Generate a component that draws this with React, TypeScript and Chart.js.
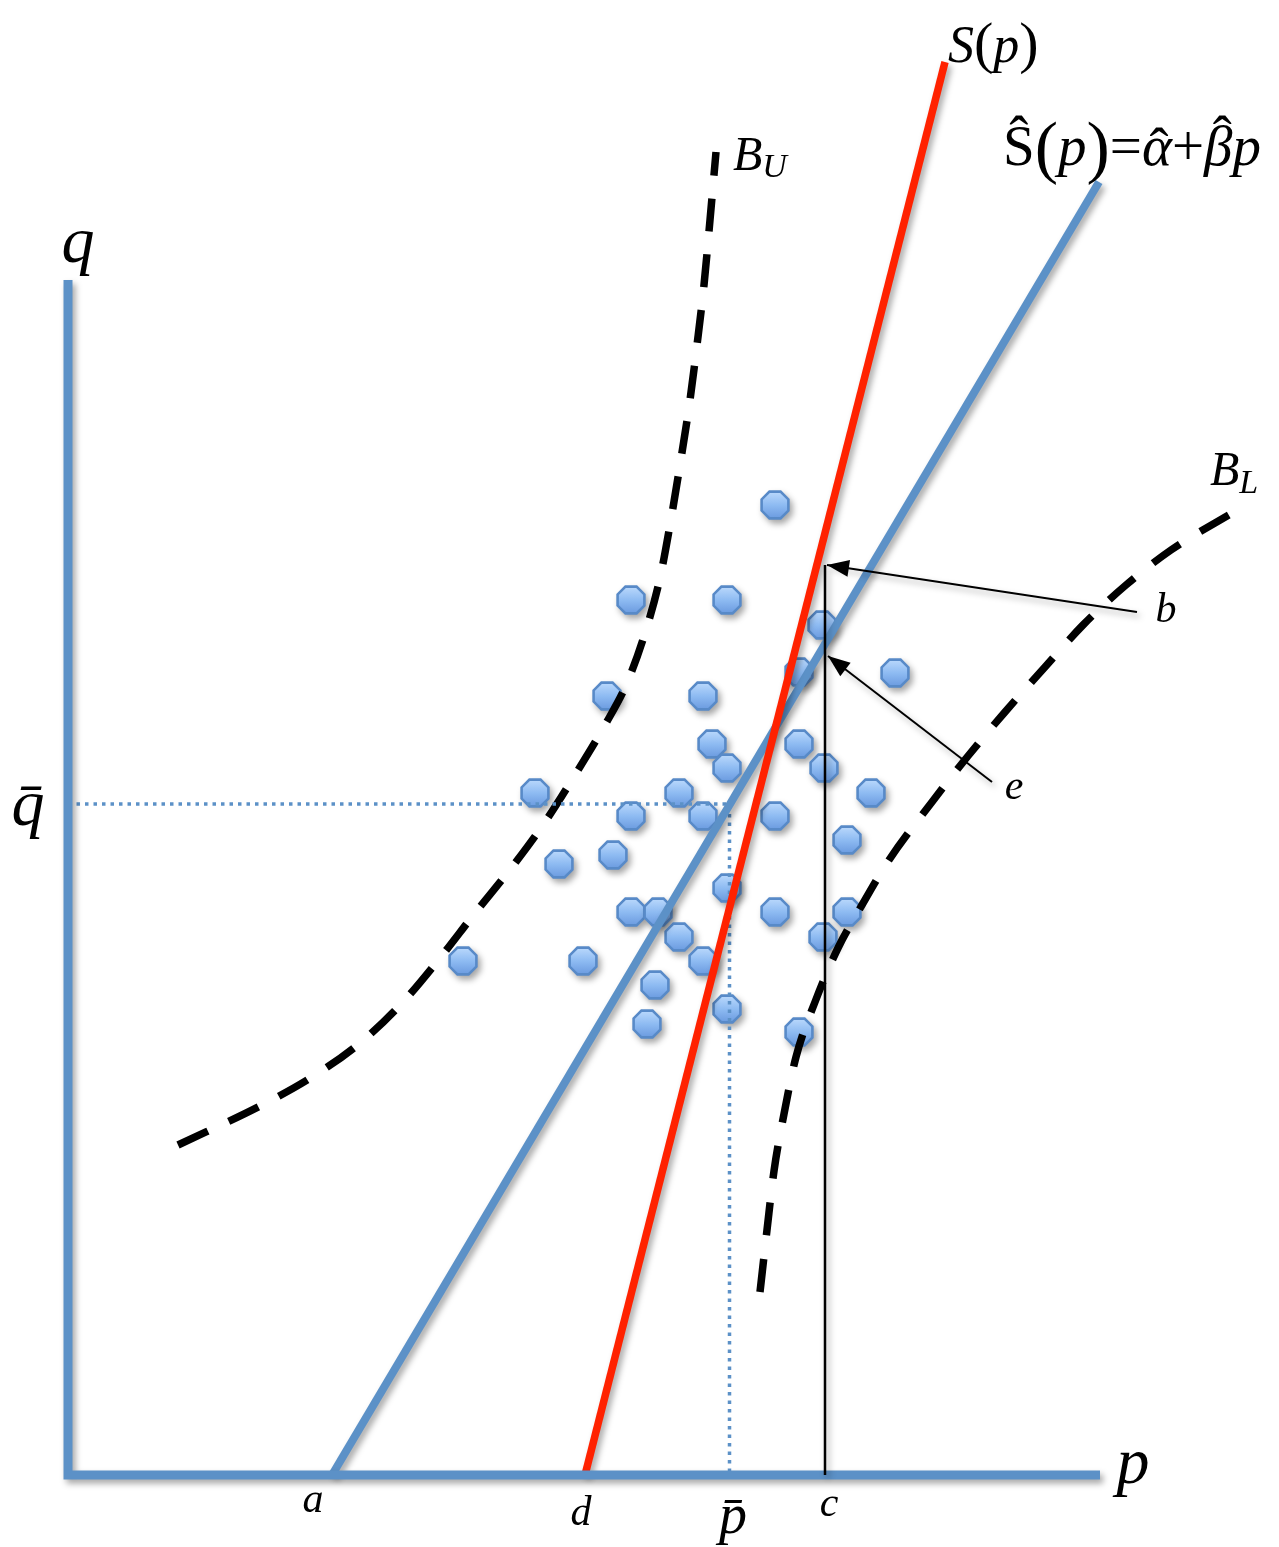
import React, { useEffect, useRef } from 'react';
import { Chart, registerables } from 'chart.js';

Chart.register(...registerables);

const W = 1279;
const H = 1547;

// Scale extents (data units: p horizontal, q vertical)
const P_MIN = -6.8;
const P_MAX = 121.1;
const Q_MIN = -7.2;
const Q_MAX = 147.5;

// Observations (p, q)
const obsP = [70.7, 56.3, 65.9, 75.4, 82.7, 53.9, 63.5, 73.1, 64.4, 73.1, 65.9, 75.6, 46.7, 61.1, 80.3, 56.3, 63.5, 70.7, 77.9, 49.1, 54.5, 65.9, 56.3, 59.0, 70.7, 77.9, 61.1, 75.5, 39.5, 51.5, 63.5, 58.7, 65.9, 57.9, 73.1];
const obsQ = [97.0, 87.5, 87.5, 85.0, 80.2, 77.9, 77.9, 80.3, 73.1, 73.1, 70.7, 70.7, 68.2, 68.2, 68.2, 65.9, 65.9, 65.9, 63.5, 61.1, 62.0, 58.7, 56.3, 56.3, 56.3, 56.3, 53.8, 53.8, 51.4, 51.4, 51.4, 49.0, 46.6, 45.1, 44.3];

// True supply S(p)
const trueP = [51.7, 87.7];
const trueQ = [0, 141.3];

// Fitted supply Ŝ(p) = α̂ + β̂p
const fitP = [26.4, 103.1];
const fitQ = [0, 129.3];

// Upper band B_U
const upperP = [11.0, 19.4, 24.4, 29.2, 33.4, 37.2, 40.7, 44.4, 47.7, 50.7, 53.7, 55.9, 57.8, 59.2, 60.2, 61.2, 62.2, 62.9, 63.6, 64.2, 64.8];
const upperQ = [33.0, 37.0, 39.8, 43.2, 47.2, 51.7, 56.2, 60.8, 65.3, 70.0, 75.0, 79.2, 84.5, 89.7, 95.0, 101.0, 107.5, 113.0, 119.0, 125.5, 132.3];

// Lower band B_L
const lowerP = [69.2, 69.9, 70.6, 71.6, 72.8, 74.7, 77.0, 79.4, 81.9, 86.4, 90.0, 93.7, 97.7, 101.5, 105.8, 110.3, 116.9];
const lowerQ = [18.3, 24.5, 30.4, 36.1, 41.8, 47.3, 52.7, 57.0, 61.2, 67.3, 71.9, 76.3, 80.8, 85.0, 89.0, 92.5, 96.5];

// Means and reference values
const Q_BAR = 67.1;
const P_BAR = 66.15;
const C_VALUE = 75.7;
const C_TOP = 91.0;

// Axes extents
const Q_AXIS_TOP = 119.5;
const P_AXIS_RIGHT = 103.2;

// Arrows: [tailP, tailQ, tipP, tipQ]
const arrowB = [106.9, 86.3, 75.9, 91.0];
const arrowE = [92.4, 69.3, 76.0, 81.9];

// Labels
type Run = { t: string; size: number; italic: boolean; dy?: number; over?: boolean; dx?: number };
const labelRuns: Run[][] = [
  [{ t: 'q', size: 66, italic: true }],
  [{ t: 'q\u0304', size: 66, italic: true }],
  [{ t: 'p', size: 66, italic: true }],
  [{ t: 'a', size: 42, italic: true }],
  [{ t: 'd', size: 42, italic: true }],
  [{ t: 'p\u0304', size: 56, italic: true }],
  [{ t: 'c', size: 42, italic: true }],
  [{ t: 'b', size: 42, italic: true }],
  [{ t: 'e', size: 42, italic: true }],
  [
    { t: 'S', size: 52, italic: true },
    { t: '(', size: 58, italic: false },
    { t: 'p', size: 52, italic: true },
    { t: ')', size: 58, italic: false },
  ],
  [
    { t: '\u015C', size: 57, italic: false },
    { t: '(', size: 70, italic: false, dy: 5 },
    { t: 'p', size: 57, italic: true },
    { t: ')', size: 70, italic: false, dy: 5 },
    { t: '=', size: 57, italic: false },
    { t: '\u03B1', size: 57, italic: true },
    { t: '\u02C6', size: 57, italic: false, over: true, dy: 2, dx: 2 },
    { t: '+', size: 57, italic: false },
    { t: '\u03B2', size: 57, italic: true },
    { t: '\u02C6', size: 57, italic: false, over: true, dy: -10, dx: 4 },
    { t: 'p', size: 57, italic: true },
  ],
  [
    { t: 'B', size: 48, italic: true },
    { t: 'U', size: 34, italic: true, dy: 7 },
  ],
  [
    { t: 'B', size: 48, italic: true },
    { t: 'L', size: 34, italic: true, dy: 8 },
  ],
];
const labelP = [1.0, -4.0, 106.5, 24.5, 51.3, 66.5, 76.1, 109.8, 94.6, 88.0, 93.5, 66.5, 114.2];
const labelQ = [121.3, 65.0, -0.8, -3.7, -5.0, -5.8, -4.1, 85.3, 67.6, 141.3, 131.0, 130.5, 99.0];
const labelAlign = ['center', 'center', 'center', 'center', 'center', 'center', 'center', 'center', 'center', 'left', 'left', 'left', 'left'];

const BLUE = 'rgb(92,145,199)';
const RED = 'rgb(255,34,0)';
const FONT = '"Liberation Serif", "Times New Roman", serif';

function pts(xs: number[], ys: number[]) {
  return xs.map((x, i) => ({ x, y: ys[i] }));
}

function makeOctagon(): HTMLCanvasElement {
  const c = document.createElement('canvas');
  const s = 34;
  c.width = s;
  c.height = s;
  const g = c.getContext('2d')!;
  const r = 14.5;
  const cx = s / 2;
  const cy = s / 2;
  g.beginPath();
  for (let i = 0; i < 8; i++) {
    const a = Math.PI / 8 + (i * Math.PI) / 4;
    const x = cx + r * Math.cos(a);
    const y = cy + r * Math.sin(a);
    if (i === 0) g.moveTo(x, y);
    else g.lineTo(x, y);
  }
  g.closePath();
  const grad = g.createLinearGradient(0, cy - r, 0, cy + r);
  grad.addColorStop(0, 'rgb(190,219,253)');
  grad.addColorStop(0.5, 'rgb(142,187,242)');
  grad.addColorStop(1, 'rgb(104,152,222)');
  g.fillStyle = grad;
  g.fill();
  g.lineWidth = 2.6;
  g.strokeStyle = 'rgb(88,138,200)';
  g.stroke();
  return c;
}

const shadowPlugin = {
  id: 'shadowPlugin',
  beforeDatasetDraw(chart: any, args: any) {
    const ctx = chart.ctx;
    ctx.save();
    const ds = chart.data.datasets[args.index];
    if (ds.noShadow) return;
    ctx.shadowColor = 'rgba(0,0,0,0.35)';
    ctx.shadowBlur = 6;
    ctx.shadowOffsetX = 3;
    ctx.shadowOffsetY = 4;
  },
  afterDatasetDraw(chart: any) {
    chart.ctx.restore();
  },
};

const annotationPlugin = {
  id: 'annotationPlugin',
  afterDraw(chart: any) {
    const ctx = chart.ctx as CanvasRenderingContext2D;
    const xs = chart.scales.x;
    const ys = chart.scales.y;
    const heads = [arrowB, arrowE];
    ctx.save();
    ctx.fillStyle = '#000';
    heads.forEach((a) => {
      const x0 = xs.getPixelForValue(a[0]);
      const y0 = ys.getPixelForValue(a[1]);
      const x1 = xs.getPixelForValue(a[2]);
      const y1 = ys.getPixelForValue(a[3]);
      const ang = Math.atan2(y1 - y0, x1 - x0);
      const len = 22;
      const half = 8.5;
      const bx = x1 - len * Math.cos(ang);
      const by = y1 - len * Math.sin(ang);
      ctx.beginPath();
      ctx.moveTo(x1, y1);
      ctx.lineTo(bx + half * Math.sin(ang), by - half * Math.cos(ang));
      ctx.lineTo(bx - half * Math.sin(ang), by + half * Math.cos(ang));
      ctx.closePath();
      ctx.fill();
    });
    ctx.fillStyle = '#000';
    ctx.textBaseline = 'alphabetic';
    ctx.textAlign = 'left';
    const fontOf = (r: Run) => `${r.italic ? 'italic ' : ''}${r.size}px ${FONT}`;
    labelRuns.forEach((runs, i) => {
      const px = xs.getPixelForValue(labelP[i]);
      const py = ys.getPixelForValue(labelQ[i]);
      let total = 0;
      const widths = runs.map((r) => {
        ctx.font = fontOf(r);
        const w = ctx.measureText(r.t).width;
        if (!r.over) total += w;
        return w;
      });
      let cx = labelAlign[i] === 'center' ? px - total / 2 : px;
      let prevStart = cx;
      let prevW = 0;
      runs.forEach((r, j) => {
        ctx.font = fontOf(r);
        if (r.over) {
          const hx = prevStart + prevW / 2 - widths[j] / 2 + (r.dx || 0);
          ctx.fillText(r.t, hx, py + (r.dy || 0));
        } else {
          ctx.fillText(r.t, cx + (r.dx || 0), py + (r.dy || 0));
          prevStart = cx;
          prevW = widths[j];
          cx += widths[j];
        }
      });
    });
    ctx.restore();
  },
};

export default function App() {
  const ref = useRef<HTMLCanvasElement | null>(null);
  useEffect(() => {
    if (!ref.current) return;
    const oct = makeOctagon();
    const lineBase = { pointRadius: 0, pointHoverRadius: 0, fill: false, clip: false as any, tension: 0 };
    const chart = new Chart(ref.current, {
      type: 'line',
      data: {
        datasets: [
          {
            label: 'arrow b',
            data: [{ x: arrowB[0], y: arrowB[1] }, { x: arrowB[2], y: arrowB[3] }],
            borderColor: '#000',
            borderWidth: 2,
            order: 0,
            ...lineBase,
          } as any,
          {
            label: 'arrow e',
            data: [{ x: arrowE[0], y: arrowE[1] }, { x: arrowE[2], y: arrowE[3] }],
            borderColor: '#000',
            borderWidth: 2,
            order: 0,
            ...lineBase,
          },
          {
            label: 'c',
            data: [{ x: C_VALUE, y: 0 }, { x: C_VALUE, y: C_TOP }],
            borderColor: '#000',
            borderWidth: 2.5,
            order: 0,
            ...lineBase,
          },
          {
            label: 'axes',
            data: [{ x: 0, y: Q_AXIS_TOP }, { x: 0, y: 0 }, { x: P_AXIS_RIGHT, y: 0 }],
            borderColor: BLUE,
            borderWidth: 9,
            borderJoinStyle: 'miter',
            borderCapStyle: 'butt',
            order: 1,
            ...lineBase,
          },
          {
            label: 'S(p)',
            data: pts(trueP, trueQ),
            borderColor: RED,
            borderWidth: 7.5,
            order: 2,
            ...lineBase,
          },
          {
            label: 'S hat',
            data: pts(fitP, fitQ),
            borderColor: BLUE,
            borderWidth: 8,
            order: 3,
            ...lineBase,
          },
          {
            label: 'means',
            data: [{ x: 0, y: Q_BAR }, { x: P_BAR, y: Q_BAR }, { x: P_BAR, y: 0 }],
            borderColor: BLUE,
            borderWidth: 3.5,
            borderDash: [3.5, 5],
            order: 4,
            noShadow: true,
            ...lineBase,
          } as any,
          {
            label: 'B_U',
            data: pts(upperP, upperQ),
            borderColor: '#000',
            borderWidth: 7.5,
            borderDash: [33, 23],
            cubicInterpolationMode: 'monotone',
            order: 5,
            noShadow: true,
            ...lineBase,
          } as any,
          {
            label: 'B_L',
            data: pts(lowerP, lowerQ),
            borderColor: '#000',
            borderWidth: 7.5,
            borderDash: [33, 24],
            cubicInterpolationMode: 'monotone',
            order: 5,
            noShadow: true,
            ...lineBase,
          } as any,
          {
            label: 'observations',
            data: pts(obsP, obsQ),
            showLine: false,
            pointStyle: oct as any,
            pointRadius: 15,
            pointHoverRadius: 15,
            order: 10,
            clip: false as any,
          },
        ],
      },
      options: {
        animation: false,
        responsive: false,
        devicePixelRatio: 1,
        events: [],
        layout: { padding: 0, autoPadding: false },
        plugins: { legend: { display: false }, tooltip: { enabled: false } },
        scales: {
          x: { type: 'linear', min: P_MIN, max: P_MAX, display: false },
          y: { type: 'linear', min: Q_MIN, max: Q_MAX, display: false },
        },
      },
      plugins: [shadowPlugin, annotationPlugin],
    });
    return () => chart.destroy();
  }, []);
  return (
    <div style={{ position: 'absolute', left: 0, top: 0, width: W, height: H, background: '#fff' }}>
      <canvas ref={ref} width={W} height={H} style={{ display: 'block', width: W, height: H }} />
    </div>
  );
}
